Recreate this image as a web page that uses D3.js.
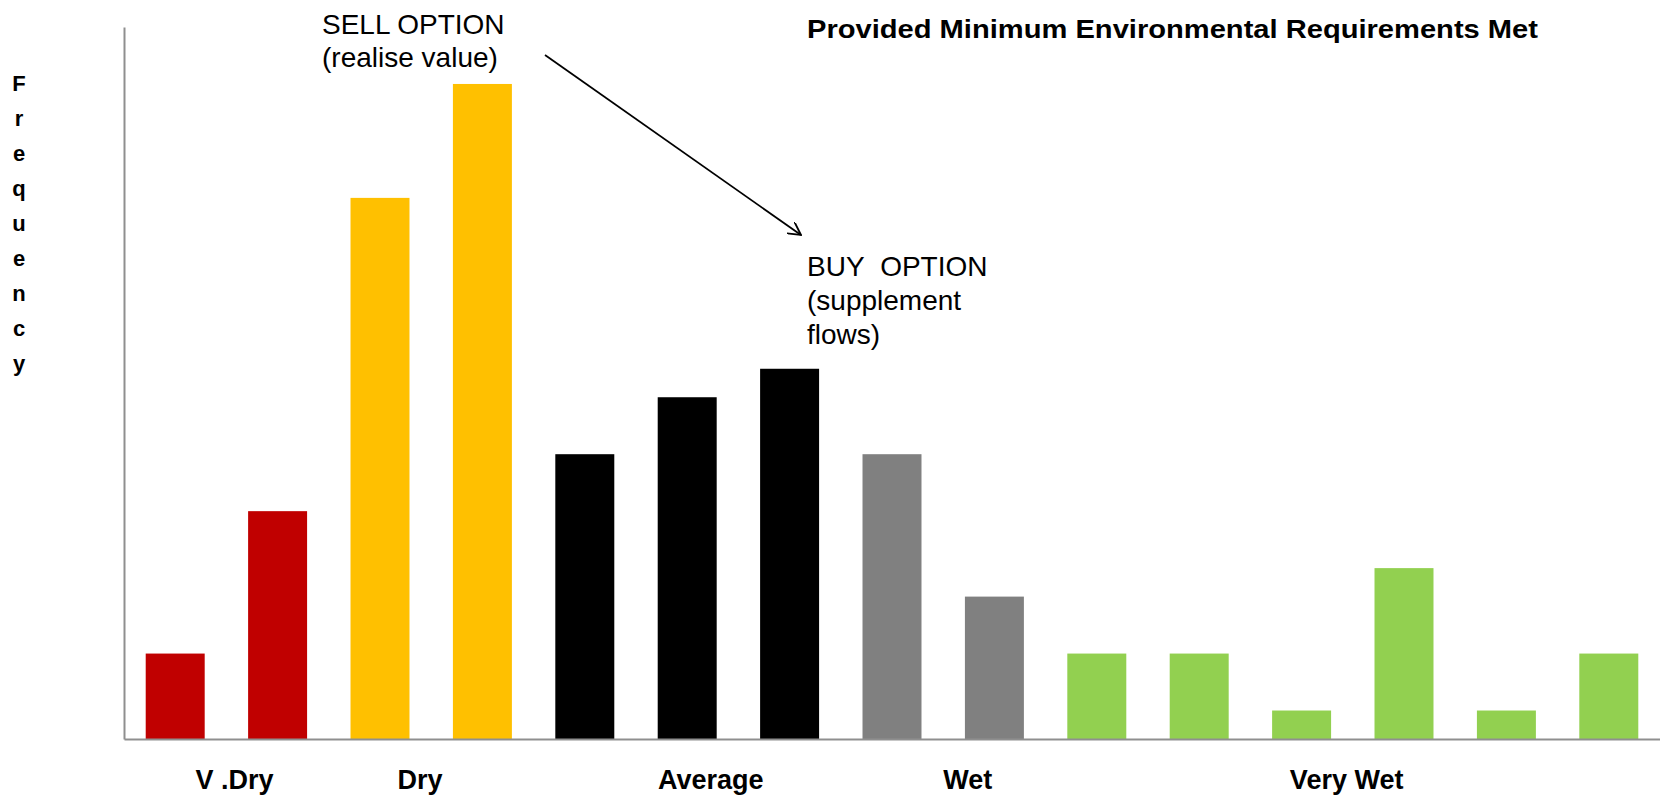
<!DOCTYPE html>
<html>
<head>
<meta charset="utf-8">
<script src="https://cdn.jsdelivr.net/npm/d3@7"></script>
<style>
  body { margin: 0; background: #fff; }
  text { font-family: "Liberation Sans", Arial, sans-serif; }
</style>
</head>
<body>
<svg id="chart"></svg>
<script>
// bar values (frequency), one per year class bin
var values = [3, 8, 19, 23, 10, 12, 13, 10, 5, 3, 3, 1, 6, 1, 3];
var classes = ['vdry', 'vdry', 'dry', 'dry', 'avg', 'avg', 'avg', 'wet', 'wet',
               'vwet', 'vwet', 'vwet', 'vwet', 'vwet', 'vwet'];
var classColors = { vdry: '#C00000', dry: '#FFC000', avg: '#000000', wet: '#808080', vwet: '#92D050' };

// category labels and where they sit (in bar-index units)
var groupLabels = ['V .Dry', 'Dry', 'Average', 'Wet', 'Very Wet'];
var groupLabelPos = [0.58, 2.39, 5.23, 7.74, 11.44];

var yAxisLetters = 'Frequency'.split('');

var width = 1660, height = 796;
var mLeft = 124, mRight = 1660, mTop = 27, mBottom = 739;

var svg = d3.select('#chart').attr('width', width).attr('height', height);

var x = d3.scaleBand()
    .domain(d3.range(values.length))
    .range([mLeft, mRight])
    .paddingInner(0.424)
    .paddingOuter(0.212);

var y = d3.scaleLinear().domain([0, 25]).range([mBottom, mTop]);

// maps bar index to centre of that bar
var xi = d3.scaleLinear()
    .domain([0, values.length - 1])
    .range([x(0) + x.bandwidth() / 2, x(values.length - 1) + x.bandwidth() / 2]);

svg.selectAll('rect.bar')
    .data(values)
    .enter()
    .append('rect')
    .attr('class', 'bar')
    .attr('x', function (d, i) { return x(i); })
    .attr('y', function (d) { return y(d); })
    .attr('width', x.bandwidth())
    .attr('height', function (d) { return y(0) - y(d); })
    .style('fill', function (d, i) { return classColors[classes[i]]; });

// axes: plain lines, no ticks
var xAxis = d3.axisBottom(x).tickSize(0).tickSizeOuter(0).tickFormat('');
svg.append('g')
    .attr('transform', 'translate(0,' + mBottom + ')')
    .call(xAxis)
    .select('.domain')
    .attr('stroke', '#8f8f8f')
    .attr('stroke-width', 2);

var yAxis = d3.axisLeft(y).tickSize(0).tickSizeOuter(0).tickValues([]);
svg.append('g')
    .attr('transform', 'translate(' + mLeft + ',0)')
    .call(yAxis)
    .select('.domain')
    .attr('stroke', '#8f8f8f')
    .attr('stroke-width', 2);

// group labels under the axis
svg.selectAll('text.grp')
    .data(groupLabels)
    .enter()
    .append('text')
    .attr('class', 'grp')
    .attr('x', function (d, i) { return xi(groupLabelPos[i]); })
    .attr('y', 789)
    .attr('text-anchor', 'middle')
    .attr('font-weight', 'bold')
    .attr('font-size', 27)
    .text(function (d) { return d; });

// vertical "Frequency" title, one letter per line
svg.selectAll('text.ylab')
    .data(yAxisLetters)
    .enter()
    .append('text')
    .attr('class', 'ylab')
    .attr('x', 19)
    .attr('y', function (d, i) { return 91 + i * 35; })
    .attr('text-anchor', 'middle')
    .attr('font-weight', 'bold')
    .attr('font-size', 22)
    .text(function (d) { return d; });

// chart title
svg.append('text')
    .attr('x', 807)
    .attr('y', 38)
    .attr('font-weight', 'bold')
    .attr('font-size', 25)
    .attr('textLength', 731)
    .attr('lengthAdjust', 'spacingAndGlyphs')
    .text('Provided Minimum Environmental Requirements Met');

// annotations
var sell = svg.append('text').attr('x', 322).attr('y', 34).attr('font-size', 28);
sell.append('tspan').attr('x', 322).text('SELL OPTION');
sell.append('tspan').attr('x', 322).attr('dy', 33).text('(realise value)');

var buy = svg.append('text').attr('x', 807).attr('y', 276).attr('font-size', 28);
buy.append('tspan').attr('x', 807).text('BUY\u00a0\u00a0OPTION');
buy.append('tspan').attr('x', 807).attr('dy', 34).text('(supplement');
buy.append('tspan').attr('x', 807).attr('dy', 34).text('flows)');

svg.append('defs').append('marker')
    .attr('id', 'arrow')
    .attr('viewBox', '0 0 14 14')
    .attr('refX', 13).attr('refY', 7)
    .attr('markerWidth', 14).attr('markerHeight', 14)
    .attr('markerUnits', 'userSpaceOnUse')
    .attr('orient', 'auto')
    .append('path')
    .attr('d', 'M0,0 L13,7 L0,14')
    .attr('fill', 'none')
    .attr('stroke', '#000')
    .attr('stroke-width', 1.8);

svg.append('line')
    .attr('x1', 545).attr('y1', 55)
    .attr('x2', 801).attr('y2', 235)
    .attr('stroke', '#000')
    .attr('stroke-width', 1.8)
    .attr('marker-end', 'url(#arrow)');
</script>
</body>
</html>
